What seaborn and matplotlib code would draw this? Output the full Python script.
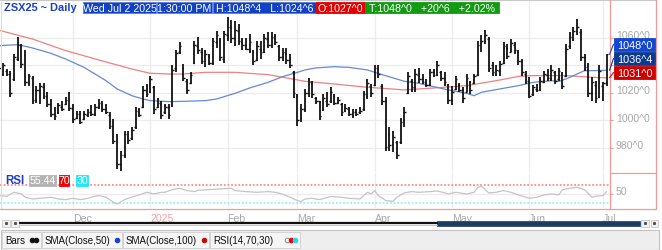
import matplotlib
matplotlib.use('Agg')
import matplotlib.pyplot as plt
import matplotlib.patches as mpatches
import matplotlib.transforms as mtransforms
import numpy as np
import pandas as pd
import seaborn as sns

sns.set_style('white')
plt.rcParams['font.family'] = ['Liberation Sans', 'DejaVu Sans']

# ---------------- data ----------------
opens = [1035, 1034, 1036, 1034, 1030, 1045, 1054, 1048, 1028, 1031,
         1015, 1022, 1024, 1018, 1012, 1005, 1006, 1010, 1012, 1016,
         1009, 1002, 1005, 1001, 1004, 1006, 1005, 1010, 1012, 1008,
         1004, 996, 985, 968, 975, 989, 987, 995, 1006, 1010,
         1022, 1021, 1024, 1010, 1012, 1006, 1010, 1011, 1038, 1050,
         1038, 1029, 1027, 1042, 1054, 1050, 1043, 1047, 1042, 1057,
         1058, 1045, 1062, 1068, 1060, 1065, 1057, 1055, 1052, 1050,
         1044, 1052, 1050, 1059, 1055, 1060, 1054, 1046, 1049, 1044,
         1035, 1018, 1002, 1008, 1020, 1027, 1016, 1014, 1008, 1014,
         1014, 1018, 1013, 1012, 1007, 1008, 1005, 1006, 1006, 1008,
         1018, 1025, 1026, 1037, 1025, 1014, 990, 983, 984, 984,
         1000, 1020, 1029, 1024, 1033, 1030, 1027, 1026, 1035, 1033,
         1035, 1031, 1026, 1015, 1023, 1026, 1022, 1021, 1028, 1027,
         1033, 1056, 1058, 1059, 1040, 1034, 1036, 1042, 1053, 1050,
         1055, 1050, 1043, 1034, 1029, 1019, 1023, 1022, 1028, 1033,
         1031, 1035, 1030, 1034, 1032, 1054, 1060, 1065, 1064, 1046,
         1040, 1020, 1026, 1017, 1025, 1027]
highs = [1040, 1042, 1037.5, 1036, 1048, 1060.5, 1055.5, 1051, 1034, 1032.5,
         1025, 1027.5, 1027.5, 1020.5, 1015.5, 1009.5, 1013, 1014.5, 1017, 1020.5,
         1012, 1007, 1007, 1007, 1008.5, 1011, 1012, 1015.5, 1014.5, 1012,
         1006, 1001, 990, 978, 992.5, 992, 995, 1009.5, 1009, 1025,
         1026.5, 1032.5, 1025, 1016, 1014.5, 1012, 1012, 1040, 1051, 1057,
         1041, 1030, 1035, 1058, 1060.5, 1053, 1051, 1048, 1060, 1065,
         1060, 1065, 1075, 1073, 1072, 1070, 1060, 1060, 1063, 1051,
         1058, 1058, 1063, 1064, 1064, 1063, 1055, 1053, 1053, 1048,
         1036, 1019, 1012, 1023, 1031, 1029, 1017, 1014.5, 1019, 1020.5,
         1024, 1019, 1017, 1013, 1012, 1009.5, 1008, 1008, 1009.5, 1021.5,
         1030, 1026.5, 1040, 1040, 1026.5, 1017, 995, 992.5, 985, 1002,
         1009.5, 1035, 1030, 1037.5, 1038.5, 1034, 1030, 1037.5, 1037.5, 1043.5,
         1036, 1035, 1026.5, 1025, 1032.5, 1027.5, 1024, 1034, 1029, 1034,
         1058, 1062, 1065.5, 1060.5, 1042.5, 1040, 1043.5, 1057, 1055.5, 1059,
         1057, 1051, 1044.5, 1036, 1031.5, 1025.5, 1026.5, 1031.5, 1036, 1037.5,
         1040, 1036, 1038.5, 1035, 1055.5, 1064, 1068, 1074, 1066.5, 1048.5,
         1042, 1031.5, 1029, 1040, 1028, 1048.5]
lows = [1030, 1032.5, 1032.5, 1017, 1029, 1043.5, 1038.5, 1025, 1025, 1012,
        1013, 1012, 1015.5, 1009.5, 1002.5, 1000, 1004.5, 1007, 1011, 1007,
        998.5, 1001, 997.5, 1000, 1002.5, 1003.5, 1003.5, 1008, 1006, 1005,
        994, 983, 965, 963.5, 973, 983, 986, 994, 1002.5, 1009,
        1017, 1020, 1004.5, 1009, 1001, 1005, 1001, 1009.5, 1035, 1048,
        1029, 1019, 1026.5, 1041, 1048, 1041, 1039, 1040, 1040, 1053,
        1043, 1042, 1058, 1056, 1054, 1055, 1051, 1051, 1049, 1040,
        1043, 1045, 1049, 1053, 1053, 1055, 1043, 1043, 1041, 1038,
        1016, 996, 999, 1006, 1017, 1016, 1012, 1000, 1007, 1009.5,
        1013, 1011, 1012, 1003.5, 1006, 1003.5, 1002, 1003, 1004.5, 1007,
        1015.5, 1017, 1025, 1031, 1011, 978, 978, 977, 972, 983,
        995, 1019, 1020.5, 1020.5, 1027.5, 1026.5, 1024, 1025, 1031.5, 1032.5,
        1029, 1025, 1012, 1011, 1022, 1020.5, 1013, 1020.5, 1019, 1026.5,
        1032.5, 1049.5, 1055.5, 1035, 1032.5, 1032.5, 1032.5, 1041, 1044.5, 1049.5,
        1048.5, 1040, 1032.5, 1026.5, 1016, 1018, 1020.5, 1021.5, 1027.5, 1029,
        1029, 1026.5, 1029, 1023, 1031.5, 1052, 1058, 1062, 1043.5, 1036,
        1017, 1014.5, 1013, 1016, 1014.5, 1024.75]
closes = [1038, 1040, 1034, 1020, 1046, 1055, 1041, 1028, 1032, 1015,
          1022, 1025, 1018, 1012, 1005, 1003, 1011, 1008, 1015, 1009,
          1001, 1005, 999, 1005, 1006, 1005, 1010, 1013, 1008, 1006,
          996, 985, 968, 975, 990, 986, 993, 1007, 1004, 1022,
          1019, 1030, 1008, 1013, 1004, 1010, 1004, 1037, 1049, 1054,
          1031, 1022, 1033, 1055, 1051, 1043, 1048, 1042, 1058, 1062,
          1046, 1063, 1068, 1060, 1066, 1058, 1055, 1052, 1057, 1043,
          1054, 1050, 1060, 1055, 1061, 1057, 1046, 1050, 1044, 1040,
          1020, 1000, 1008, 1020, 1028, 1019, 1014, 1003, 1016, 1012,
          1021, 1013, 1015, 1006, 1009, 1005, 1006, 1005, 1007, 1019,
          1027, 1020, 1038, 1034, 1014, 981, 982, 988, 975, 999,
          1006, 1032, 1024, 1034, 1030, 1028, 1026, 1035, 1033, 1040,
          1031, 1028, 1015, 1021, 1030, 1022, 1016, 1031, 1022, 1032,
          1055, 1058, 1062, 1038, 1035, 1037, 1041, 1054, 1047, 1056,
          1051, 1043, 1035, 1029, 1018, 1024, 1022, 1029, 1034, 1031,
          1037, 1029, 1036, 1025, 1052, 1061, 1065, 1068, 1046, 1039,
          1020, 1028, 1016, 1036, 1027.25, 1048]

month_labels = ['Dec', '2025', 'Feb', 'Mar', 'Apr', 'May', 'Jun', 'Jul']
month_idx = [20, 41, 62, 81, 102, 123, 144, 164]

sma50_idx = [0, 5, 9, 14, 18, 23, 29, 32, 36, 39, 41, 46, 50, 56, 59, 64, 68, 73,
             77, 81, 83, 86, 91, 95, 100, 104, 110, 114, 118, 122, 127, 129, 131,
             136, 141, 145, 150, 152, 154, 157, 159, 161, 165]
sma50_val = [1054.4, 1055.1, 1052.7, 1048.8, 1044.7, 1038.6, 1028.9, 1022.9, 1018.0,
             1015.6, 1014.4, 1013.7, 1013.9, 1014.4, 1015.6, 1019.7, 1023.6, 1027.7,
             1031.9, 1035.0, 1036.7, 1038.2, 1039.1, 1038.6, 1036.7, 1033.3, 1028.5,
             1027.0, 1024.6, 1022.2, 1019.7, 1018.0, 1020.5, 1022.9, 1025.3, 1027.7,
             1028.9, 1028.4, 1030.2, 1033.8, 1036.2, 1036.2, 1036.5]
sma100_idx = [0, 9, 18, 27, 36, 41, 46, 50, 56, 64, 73, 77, 83, 91, 100, 104, 110,
              118, 127, 136, 141, 145, 154, 161, 165]
sma100_val = [1065.5, 1059.2, 1050.8, 1044.0, 1037.4, 1034.3, 1033.8, 1033.8, 1035.0,
              1035.0, 1033.3, 1031.4, 1028.5, 1026.5, 1024.1, 1023.4, 1022.2, 1023.6,
              1025.3, 1029.4, 1032.0, 1032.6, 1032.6, 1031.4, 1031.0]

rsi_idx = [0, 2, 4, 6, 7, 9, 11, 14, 16, 18, 20, 22, 24, 26, 27, 29, 31, 32, 34, 35,
           38, 40, 42, 44, 45, 47, 49, 51, 53, 54, 57, 60, 63, 64, 67, 70, 73, 75,
           77, 79, 81, 82, 83, 85, 87, 90, 93, 95, 98, 99, 100, 101, 102, 103, 105,
           107, 108, 110, 112, 114, 117, 119, 121, 122, 124, 127, 129, 130, 131, 133,
           135, 137, 139, 141, 144, 146, 148, 150, 152, 153, 155, 157, 159, 161, 162,
           164, 165]
rsi_val = [46.0, 44.5, 53.5, 49.7, 42.2, 38.4, 39.9, 42.2, 38.4, 36.9, 39.9, 36.9,
           39.9, 44.5, 46.0, 42.2, 30.9, 27.1, 36.9, 39.9, 47.5, 53.5, 49.7, 53.5,
           53.5, 59.5, 62.5, 57.3, 55.0, 58.0, 59.5, 61.0, 62.5, 57.3, 55.0, 53.5,
           55.0, 53.5, 49.0, 42.2, 34.7, 32.4, 38.4, 39.9, 36.9, 44.0, 42.2, 39.9,
           38.4, 46.0, 53.5, 49.7, 57.3, 46.0, 34.7, 33.2, 42.2, 52.0, 55.0, 53.5,
           55.0, 56.5, 52.0, 49.7, 53.5, 49.7, 53.5, 64.8, 67.0, 52.0, 53.5, 57.3,
           53.5, 47.5, 39.9, 42.2, 47.5, 49.7, 47.5, 59.5, 62.5, 64.8, 59.5, 42.2,
           44.5, 46.0, 55.44]

price_ticks = [980, 1000, 1020, 1040, 1060]
price_labels_shown = [980, 1000, 1020, 1060]   # 1040 is hidden behind the value boxes
rsi_ticks = [50]
rsi_upper, rsi_lower = 70, 30
symbol = 'ZSX25 ~ Daily'
date_text = 'Wed Jul 2 2025'
time_text = '1:30:00 PM'
legend_items = ['Bars', 'SMA(Close,50)', 'SMA(Close,100)', 'RSI(14,70,30)']


def fmt(v):
    whole = int(np.floor(v + 1e-9))
    eighth = int(round((v - whole) * 8))
    return f"{whole}^{eighth}"


# ---------------- figure layout ----------------
W, H = 662, 251
fig = plt.figure(figsize=(W / 100, H / 100), dpi=100, facecolor='white')


def rect(x0, y0, x1, y1):
    return [x0 / W, 1 - y1 / H, (x1 - x0) / W, (y1 - y0) / H]


ax = fig.add_axes(rect(0, 1, 609, 173))
axr = fig.add_axes(rect(0, 174, 609, 209), sharex=ax)
ov = fig.add_axes([0, 0, 1, 1], zorder=10)
ov.set_xlim(0, W)
ov.set_ylim(H, 0)
ov.axis('off')
ov.patch.set_alpha(0)

n = len(closes)
idx = np.arange(n)
df = pd.DataFrame({'i': idx, 'open': opens, 'high': highs, 'low': lows, 'close': closes})

GRID = '#ececec'
RED_AX = '#f29a9a'
GRAY_TXT = '#a8a8a8'

for a in (ax, axr):
    for s in a.spines.values():
        s.set_visible(False)
    a.set_facecolor('white')

ax.set_xlim(0.163, 165.65)
ax.set_ylim(962.5, 1087.6)
axr.set_ylim(18, 97)

# grid
for m in month_idx:
    ax.axvline(m, color=GRID, lw=0.9, zorder=0)
    axr.axvline(m, color=GRID, lw=0.9, zorder=0)
for p in price_ticks:
    ax.axhline(p, color=GRID, lw=0.9, zorder=0)
axr.axhline(50, color=GRID, lw=0.9, zorder=0)

# OHLC bars
ax.vlines(df['i'], df['low'], df['high'], colors='#111111', lw=1.3, zorder=3)
ax.hlines(df['open'], df['i'] - 0.45, df['i'], colors='#111111', lw=1.0, zorder=3)
ax.hlines(df['close'], df['i'], df['i'] + 0.45, colors='#111111', lw=1.0, zorder=3)

# moving averages
sns.lineplot(x=sma100_idx, y=sma100_val, ax=ax, color='#ee8080', lw=0.9,
             sort=False, estimator=None, zorder=2)
sns.lineplot(x=sma50_idx, y=sma50_val, ax=ax, color='#6688d6', lw=0.9,
             sort=False, estimator=None, zorder=2)

# RSI
axr.axhline(rsi_upper, color='#ff8c8c', lw=1.3, ls=(0, (1, 1)), zorder=1)
axr.axhline(rsi_lower, color='#9eeef8', lw=1.3, ls=(0, (1, 1)), zorder=1)
sns.lineplot(x=rsi_idx, y=rsi_val, ax=axr, color='#c4c4c4', lw=0.9,
             sort=False, estimator=None, zorder=2)

# axes ticks
lift = mtransforms.ScaledTranslation(0, 3.5 / 100, fig.dpi_scale_trans)
ax.set_xticks(month_idx)
ax.tick_params(axis='x', which='both', bottom=False, labelbottom=False)
ax.yaxis.tick_right()
ax.set_yticks(price_ticks)
ax.set_yticklabels([f"{p}^0" if p in price_labels_shown else '' for p in price_ticks])
ax.tick_params(axis='y', colors=RED_AX, length=3, width=0.8, pad=2,
               labelcolor=GRAY_TXT, labelsize=7.6)
for lbl in ax.get_yticklabels():
    lbl.set_transform(lbl.get_transform() + lift)
ax.set_xlabel('')
ax.set_ylabel('')

axr.yaxis.tick_right()
axr.set_yticks(rsi_ticks)
axr.set_yticklabels([str(t) for t in rsi_ticks])
axr.tick_params(axis='y', colors=RED_AX, length=3, width=0.8, pad=2,
                labelcolor=GRAY_TXT, labelsize=7.6)
for lbl in axr.get_yticklabels():
    lbl.set_transform(lbl.get_transform() + lift)
axr.set_xticks(month_idx)
axr.set_xticklabels(month_labels)
axr.tick_params(axis='x', colors=RED_AX, length=3.5, width=0.8, pad=0.0,
                labelcolor=GRAY_TXT, labelsize=7.6)
for lbl in axr.get_xticklabels():
    lbl.set_horizontalalignment('left')
    if lbl.get_text() == '2025':
        lbl.set_color('#f4a4a4')
axr.set_xlabel('')
axr.set_ylabel('')

# ---------------- frame lines ----------------
ov.plot([0, 656], [1, 1], color='#c8c8c8', lw=0.8)
ov.plot([1, 1], [1, 209], color='#dddddd', lw=0.8)
ov.plot([609.5, 609.5], [1, 209.5], color=RED_AX, lw=0.9)
ov.plot([656, 656], [1, 209.5], color=RED_AX, lw=0.9)
ov.plot([609.5, 656], [173.5, 173.5], color=RED_AX, lw=0.9)
ov.plot([0, 656], [209.5, 209.5], color=RED_AX, lw=0.9)


def box(x0, x1, y0, y1, fc, text, tc='white', size=7.6, weight='normal', ec=None):
    ov.add_patch(mpatches.Rectangle((x0, y0), x1 - x0, y1 - y0, fc=fc,
                                    ec=ec if ec else fc, lw=0.6))
    ov.text((x0 + x1) / 2, (y0 + y1) / 2 + 0.3, text, color=tc, fontsize=size,
            ha='center', va='center', weight=weight)


# ---------------- header ----------------
last = n - 1
prev_close = closes[last - 1]
chg = closes[last] - prev_close
pct = chg / prev_close * 100
ov.text(4, 8.3, symbol, color='#1a3fc9', fontsize=7.9, weight='bold', ha='left', va='center')
HB = '#1241c4'
box(83, 156, 3, 14, HB, date_text, ec='#5a7ee0', size=7.7)
box(157, 212, 3, 14, HB, time_text, ec='#5a7ee0', size=7.7)
box(213, 316, 3, 14, HB, f"H:{fmt(highs[last])}   L:{fmt(lows[last])}", ec='#5a7ee0', size=7.7)
box(316, 365, 3, 14, '#e40000', f"O:{fmt(opens[last])}", size=7.7)
box(365, 499, 3, 14, '#139a13', f"T:{fmt(closes[last])}   +{fmt(chg)}   +{pct:.2f}%", size=7.7)

# ---------------- RSI label ----------------
ov.text(5, 181, 'RSI', color='#1a3fc9', fontsize=8.3, weight='bold', ha='left', va='center')
box(29, 56, 175.5, 186.5, '#b4b4b4', f"{rsi_val[-1]:.2f}")
box(59, 69, 175.5, 186.5, '#f00000', str(rsi_upper))
box(76, 88, 175.5, 186.5, '#22e6f6', str(rsi_lower))

# ---------------- last value boxes ----------------
to_ov = ov.transData.inverted()
value_boxes = [(closes[last], '#1446d4', 38.5, 52), (sma50_val[-1], '#0c3a90', 53, 66),
               (sma100_val[-1], '#d00000', 67, 80)]
for val, col, y0, y1 in value_boxes:
    _, yv = to_ov.transform(ax.transData.transform((ax.get_xlim()[1], val)))
    ov.plot([609.5, 613.5], [yv, (y0 + y1) / 2], color=col, lw=0.8)
    box(613.5, 655.5, y0, y1, col, fmt(val), size=7.8)

# ---------------- scrollbar ----------------
for bx in (2, 11, 641, 650.5):
    ov.add_patch(mpatches.Rectangle((bx, 220.5), 7.5, 7.5, fc='#f2f2f2', ec='#c8c8c8', lw=0.6))
    ov.plot([bx + 3.75], [224.25], marker='s', ms=1.2, color='#555555')
ov.plot([20, 437], [223.7, 223.7], color='#111111', lw=1.6)
ov.plot([20, 437], [225.6, 225.6], color='#bbbbbb', lw=0.6)
ov.add_patch(mpatches.Rectangle((437, 221.5), 203, 5.8, fc='#1d3c63', ec='#1d3c63', lw=0.5))

# ---------------- legend bar ----------------
ov.add_patch(mpatches.Rectangle((0.5, 230.5), 658, 20, fc='#eeeeee', ec='#c4c4c4', lw=0.8))
item_x = [(2, 41), (42, 122), (123, 209), (210, 300)]
dots = [[('#111111', True), ('#111111', True)], [('#1a3fc9', True)], [('#cc0000', True)],
        [('#888888', False), ('#ee0000', True), ('#22d8ee', True)]]
for (x0, x1), label, dd in zip(item_x, legend_items, dots):
    ov.add_patch(mpatches.Rectangle((x0, 232.5), x1 - x0, 16, fc='#f5f5f5', ec='#cfcfcf', lw=0.6))
    ov.text(x0 + 3, 240.8, label, color='#111111', fontsize=7.0, ha='left', va='center')
    ndots = len(dd)
    for k, (c, filled) in enumerate(dd):
        xx = x1 - 5 - (ndots - 1 - k) * 4.2
        ov.plot([xx], [240.8], marker='o', ms=3.3, mfc=c if filled else 'white',
                mec=c, mew=0.7, color=c)

fig.savefig('out.png', dpi=100, facecolor='white')
